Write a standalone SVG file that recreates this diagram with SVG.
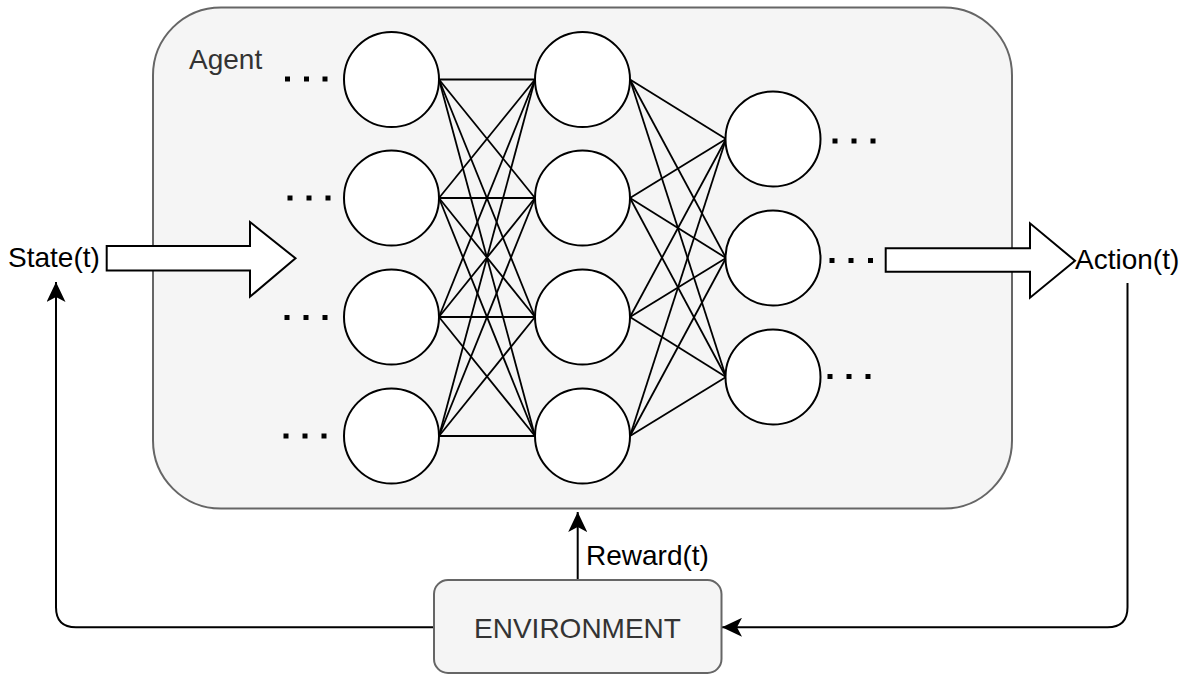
<svg xmlns="http://www.w3.org/2000/svg" width="1190" height="675" viewBox="0 0 1190 675">
<style>
.agent{fill:#f5f5f5;stroke:#666;stroke-width:2}
.env{fill:#f5f5f5;stroke:#666;stroke-width:2}
.neuron{fill:#fff;stroke:#000;stroke-width:2}
.edge{stroke:#000;stroke-width:1.8;fill:none}
.conn{stroke:#000;stroke-width:2;fill:none}
.barrow{fill:#fff;stroke:#000;stroke-width:2;stroke-linejoin:miter}
.dot{fill:#000}
.lbl{font-family:"Liberation Sans",Arial,sans-serif;font-size:28px;fill:#000}
.glbl{font-family:"Liberation Sans",Arial,sans-serif;font-size:28px;fill:#333}
</style>
<defs>
<marker id="arr" viewBox="0 0 20 19" refX="20" refY="9.5" markerWidth="20" markerHeight="19" markerUnits="userSpaceOnUse" orient="auto">
<path d="M0,0 L20,9.5 L0,19 L5,9.5 z" fill="#000"/>
</marker>
</defs>

<g id="agent">
<rect class="agent" x="153" y="7.5" width="859" height="501" rx="68" ry="68"/>
<text class="glbl" x="189" y="69">Agent</text>
</g>

<g id="connectors">
<g class="edge">
<line x1="439" y1="79.5" x2="535" y2="79.5"/><line x1="439" y1="79.5" x2="535" y2="198"/><line x1="439" y1="79.5" x2="535" y2="317"/><line x1="439" y1="79.5" x2="535" y2="436"/>
<line x1="439" y1="198" x2="535" y2="79.5"/><line x1="439" y1="198" x2="535" y2="198"/><line x1="439" y1="198" x2="535" y2="317"/><line x1="439" y1="198" x2="535" y2="436"/>
<line x1="439" y1="317" x2="535" y2="79.5"/><line x1="439" y1="317" x2="535" y2="198"/><line x1="439" y1="317" x2="535" y2="317"/><line x1="439" y1="317" x2="535" y2="436"/>
<line x1="439" y1="436" x2="535" y2="79.5"/><line x1="439" y1="436" x2="535" y2="198"/><line x1="439" y1="436" x2="535" y2="317"/><line x1="439" y1="436" x2="535" y2="436"/>
<line x1="630" y1="79.5" x2="726" y2="139"/><line x1="630" y1="79.5" x2="726" y2="258"/><line x1="630" y1="79.5" x2="726" y2="377"/>
<line x1="630" y1="198" x2="726" y2="139"/><line x1="630" y1="198" x2="726" y2="258"/><line x1="630" y1="198" x2="726" y2="377"/>
<line x1="630" y1="317" x2="726" y2="139"/><line x1="630" y1="317" x2="726" y2="258"/><line x1="630" y1="317" x2="726" y2="377"/>
<line x1="630" y1="436" x2="726" y2="139"/><line x1="630" y1="436" x2="726" y2="258"/><line x1="630" y1="436" x2="726" y2="377"/>
</g>
<path class="conn" d="M434,627.3 H76 Q56,627.3 56,607.3 V282" marker-end="url(#arr)"/>
<path class="conn" d="M1127.5,283 V607.3 Q1127.5,627.3 1107.5,627.3 H722" marker-end="url(#arr)"/>
<path class="conn" d="M577.7,580 V512" marker-end="url(#arr)"/>
<text class="lbl" x="586" y="565">Reward(t)</text>
</g>

<g id="layer1">
<circle class="neuron" cx="391.5" cy="79.5" r="47.5"/>
<circle class="neuron" cx="391.5" cy="198" r="47.5"/>
<circle class="neuron" cx="391.5" cy="317" r="47.5"/>
<circle class="neuron" cx="391.5" cy="436" r="47.5"/>
</g>
<g id="layer2">
<circle class="neuron" cx="582.5" cy="79.5" r="47.5"/>
<circle class="neuron" cx="582.5" cy="198" r="47.5"/>
<circle class="neuron" cx="582.5" cy="317" r="47.5"/>
<circle class="neuron" cx="582.5" cy="436" r="47.5"/>
</g>
<g id="layer3">
<circle class="neuron" cx="773" cy="139" r="47.5"/>
<circle class="neuron" cx="773" cy="258" r="47.5"/>
<circle class="neuron" cx="773" cy="377" r="47.5"/>
</g>

<g id="dots">
<rect class="dot" x="285" y="76.5" width="5" height="5"/><rect class="dot" x="304" y="76.5" width="5" height="5"/><rect class="dot" x="322.5" y="76.5" width="5" height="5"/>
<rect class="dot" x="287.5" y="195.5" width="5" height="5"/><rect class="dot" x="306.5" y="195.5" width="5" height="5"/><rect class="dot" x="325.5" y="195.5" width="5" height="5"/>
<rect class="dot" x="284.5" y="315" width="5" height="5"/><rect class="dot" x="303.5" y="315" width="5" height="5"/><rect class="dot" x="322.5" y="315" width="5" height="5"/>
<rect class="dot" x="283.5" y="433.5" width="5" height="5"/><rect class="dot" x="302.5" y="433.5" width="5" height="5"/><rect class="dot" x="321.5" y="433.5" width="5" height="5"/>
<rect class="dot" x="832.5" y="138.5" width="5" height="5"/><rect class="dot" x="851.5" y="138.5" width="5" height="5"/><rect class="dot" x="870.5" y="138.5" width="5" height="5"/>
<rect class="dot" x="829.5" y="258" width="5" height="5"/><rect class="dot" x="848.5" y="258" width="5" height="5"/><rect class="dot" x="868" y="258" width="5" height="5"/>
<rect class="dot" x="827.5" y="374" width="5" height="5"/><rect class="dot" x="846.5" y="374" width="5" height="5"/><rect class="dot" x="865.5" y="374" width="5" height="5"/>
</g>

<g id="state">
<path class="barrow" d="M106.7,246 H250 V222 L295.5,258.3 L250,296.7 V270.5 H106.7 Z"/>
<text class="lbl" x="8" y="267">State(t)</text>
</g>

<g id="action">
<path class="barrow" d="M885.7,248.3 H1030 V223.3 L1075,260.7 L1030,297.7 V271.7 H885.7 Z"/>
<text class="lbl" x="1075" y="268.5">Action(t)</text>
</g>

<g id="environment">
<rect class="env" x="434" y="580" width="287.5" height="93" rx="14" ry="14"/>
<text class="glbl" x="577.5" y="638" text-anchor="middle">ENVIRONMENT</text>
</g>
</svg>
